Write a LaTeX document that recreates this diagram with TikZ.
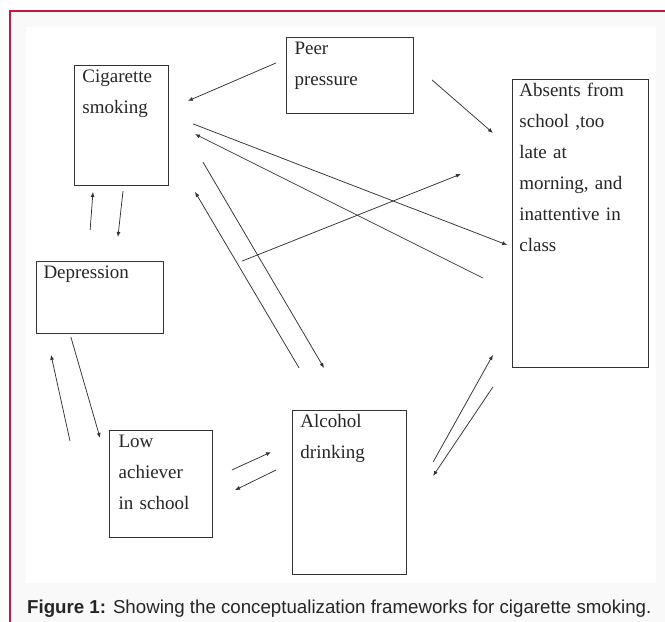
\documentclass[tikz,border=0pt]{standalone}
\usepackage{fontspec}
\newfontfamily\capfont{Liberation Sans}
\newfontfamily\boxfont{Liberation Serif}
\usetikzlibrary{arrows.meta,positioning,calc}
\definecolor{framered}{RGB}{196,22,64}
\definecolor{panelgray}{RGB}{250,249,250}

\begin{document}
\begin{tikzpicture}[
    >={Latex[length=5bp,width=4bp]},
    box/.style={draw=black!80,line width=1bp,anchor=north west,align=left,
        inner xsep=8bp,inner ysep=4bp,text height=13bp,text=black!85,
        font=\boxfont\fontsize{19bp}{31bp}\selectfont},
    flow/.style={->,line width=.75bp,draw=black!80},
    caption/.style={anchor=base west,inner sep=0,text=black!85,
        font=\capfont\fontsize{18.7bp}{22bp}\selectfont}]
\useasboundingbox (0,0) rectangle (23.46,-21.94);
\fill[panelgray] (0.35,-0.39) rectangle (23.46,-21.94);
\fill[white] (0.92,-0.95) rectangle (23.14,-20.57);
\draw[framered,line width=1.5bp] (0.35,-21.94) -- (0.35,-0.39) -- (23.46,-0.39);
\node[box,text width=78bp,text depth=99bp] (cig) at (2.61,-2.29) {Cigarette\\smoking};
\node[box,text width=111bp,text depth=55bp] (peer) at (10.09,-1.31) {Peer\\pressure};
\node[box,text width=122bp,text depth=267bp,inner xsep=7bp] (absent) at (18.06,-2.79)
    {Absents from\\school ,too\\late at\\morning, and\\inattentive in\\class};
\node[box,text width=113bp,text depth=51bp,inner xsep=7bp] (dep) at (1.27,-9.21) {Depression};
\node[box,text width=85bp,text depth=86bp,inner xsep=9bp] (low) at (3.85,-15.17) {Low\\achiever\\in school};
\node[box,text width=98bp,text depth=143bp] (alc) at (10.30,-14.46) {Alcohol\\drinking};
\node[caption] (cap) at (0.95,-21.66)
    {\textbf{Figure 1:} Showing the conceptualization frameworks for cigarette smoking.};
% arrow ends
\coordinate (peer-cig-s) at (9.74,-2.22);
\coordinate (peer-cig-e) at (6.63,-3.56);
\coordinate (peer-abs-s) at (15.24,-2.82);
\coordinate (peer-abs-e) at (17.39,-4.69);
\coordinate (cig-abs-s) at (6.81,-4.37);
\coordinate (cig-abs-e) at (17.89,-8.64);
\coordinate (abs-cig-s) at (17.04,-9.81);
\coordinate (abs-cig-e) at (6.88,-4.73);
\coordinate (cig-alc-s) at (7.16,-5.72);
\coordinate (cig-alc-e) at (11.43,-12.98);
\coordinate (alc-cig-s) at (10.55,-12.98);
\coordinate (alc-cig-e) at (6.88,-6.77);
\coordinate (cig-dep-s) at (4.34,-6.74);
\coordinate (cig-dep-e) at (4.16,-8.36);
\coordinate (dep-cig-s) at (3.18,-8.11);
\coordinate (dep-cig-e) at (3.28,-6.77);
\coordinate (dep-abs-s) at (8.54,-9.21);
\coordinate (dep-abs-e) at (16.26,-6.14);
\coordinate (dep-low-s) at (2.50,-11.89);
\coordinate (dep-low-e) at (3.53,-15.45);
\coordinate (low-dep-s) at (2.47,-15.56);
\coordinate (low-dep-e) at (1.80,-12.52);
\coordinate (low-alc-s) at (8.18,-16.58);
\coordinate (low-alc-e) at (9.56,-15.95);
\coordinate (alc-low-s) at (9.74,-16.58);
\coordinate (alc-low-e) at (8.29,-17.29);
\coordinate (alc-abs-s) at (15.28,-16.30);
\coordinate (alc-abs-e) at (17.39,-12.52);
\coordinate (abs-alc-s) at (17.39,-13.65);
\coordinate (abs-alc-e) at (15.28,-16.79);
% arrows
\draw[flow] (peer-cig-s)--(peer-cig-e);
\draw[flow] (peer-abs-s)--(peer-abs-e);
\draw[flow] (cig-abs-s)--(cig-abs-e);
\draw[flow] (abs-cig-s)--(abs-cig-e);
\draw[flow] (cig-alc-s)--(cig-alc-e);
\draw[flow] (alc-cig-s)--(alc-cig-e);
\draw[flow] (cig-dep-s)--(cig-dep-e);
\draw[flow] (dep-cig-s)--(dep-cig-e);
\draw[flow] (dep-abs-s)--(dep-abs-e);
\draw[flow] (dep-low-s)--(dep-low-e);
\draw[flow] (low-dep-s)--(low-dep-e);
\draw[flow] (low-alc-s)--(low-alc-e);
\draw[flow] (alc-low-s)--(alc-low-e);
\draw[flow] (alc-abs-s)--(alc-abs-e);
\draw[flow] (abs-alc-s)--(abs-alc-e);
\end{tikzpicture}
\end{document}
